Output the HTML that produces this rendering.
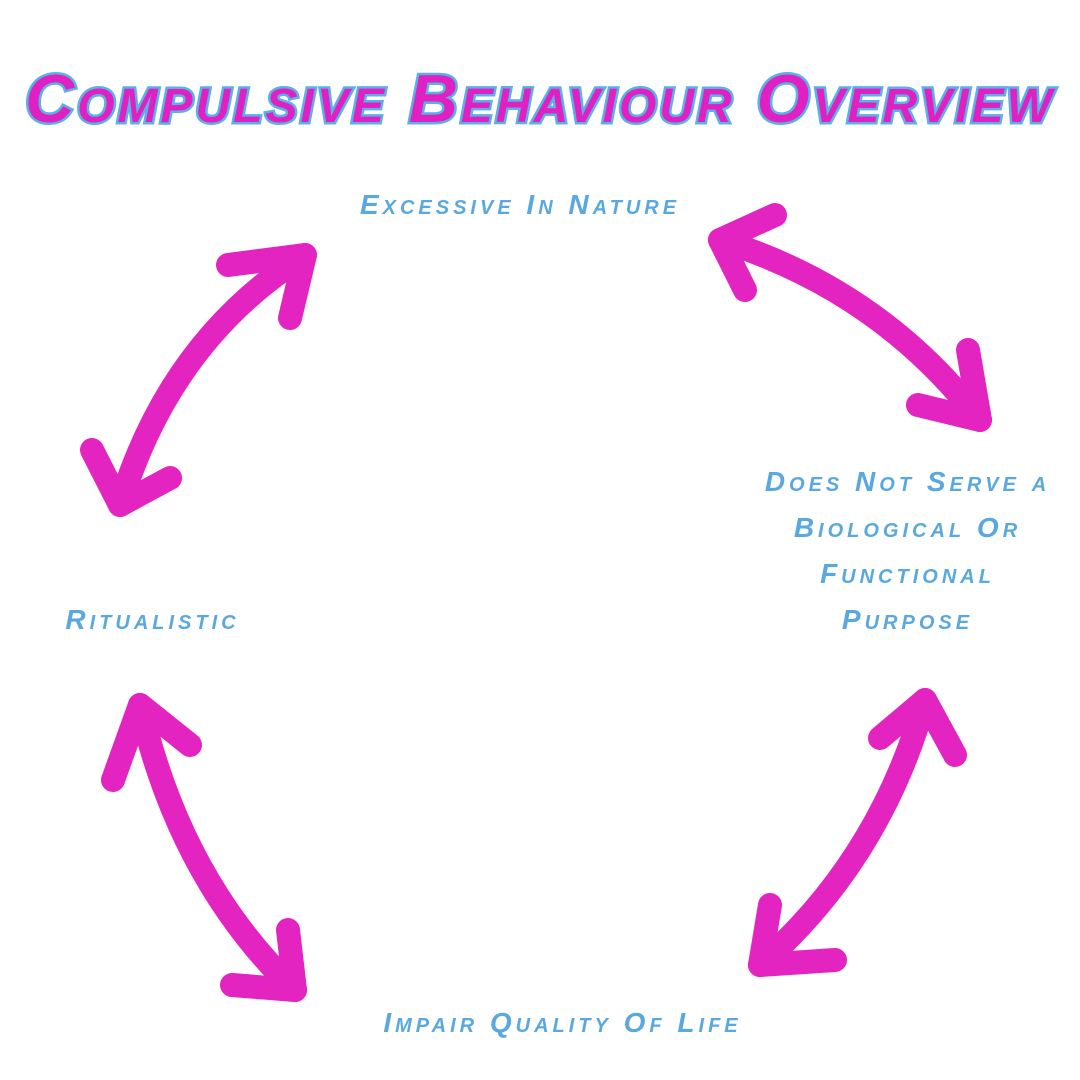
<!DOCTYPE html>
<html><head><meta charset="utf-8"><style>
html,body{margin:0;padding:0;background:#fff;}
.wrap{position:relative;width:1080px;height:1080px;overflow:hidden;background:#fff;}
.t{position:absolute;left:0;width:1080px;top:60px;text-align:center;font-family:"Liberation Sans",sans-serif;font-weight:bold;font-style:italic;font-variant:small-caps;font-size:68px;color:#e020c0;-webkit-text-stroke:5px #5ab0e8;paint-order:stroke fill;letter-spacing:3px;white-space:nowrap;}
.l{position:absolute;font-family:"Liberation Sans",sans-serif;font-weight:bold;font-style:italic;font-variant:small-caps;font-size:28px;color:#5aa8e0;text-align:center;white-space:nowrap;line-height:46px;letter-spacing:4px;}
svg{position:absolute;left:0;top:0;}
</style></head><body><div class="wrap">
<svg width="1080" height="1080"><g fill="none" stroke="#e424c0" stroke-width="24" stroke-linecap="round" stroke-linejoin="round">
<path d="M120 505 Q170 340 305 255"/><path d="M92 450 L120 505 L170 478"/><path d="M228 265 L305 255 L290 318"/>
<path d="M720 240 Q880 290 980 420"/><path d="M775 215 L720 240 L745 290"/><path d="M968 350 L980 420 L918 405"/>
<path d="M925 700 Q880 860 760 965"/><path d="M880 738 L925 700 L955 755"/><path d="M770 905 L760 965 L835 960"/>
<path d="M140 705 Q180 880 295 990"/><path d="M113 780 L140 705 L190 745"/><path d="M288 930 L295 990 L232 985"/>
</g></svg>
<div class="t">Compulsive Behaviour Overview</div>
<div class="l" style="left:320px;width:400px;top:182px;">Excessive In Nature</div>
<div class="l" style="left:720px;width:375px;top:459px;">Does Not Serve a<br>Biological Or<br>Functional<br>Purpose</div>
<div class="l" style="left:50px;width:205px;top:597px;">Ritualistic</div>
<div class="l" style="left:310px;width:505px;top:1000px;">Impair Quality Of Life</div>
</div></body></html>
